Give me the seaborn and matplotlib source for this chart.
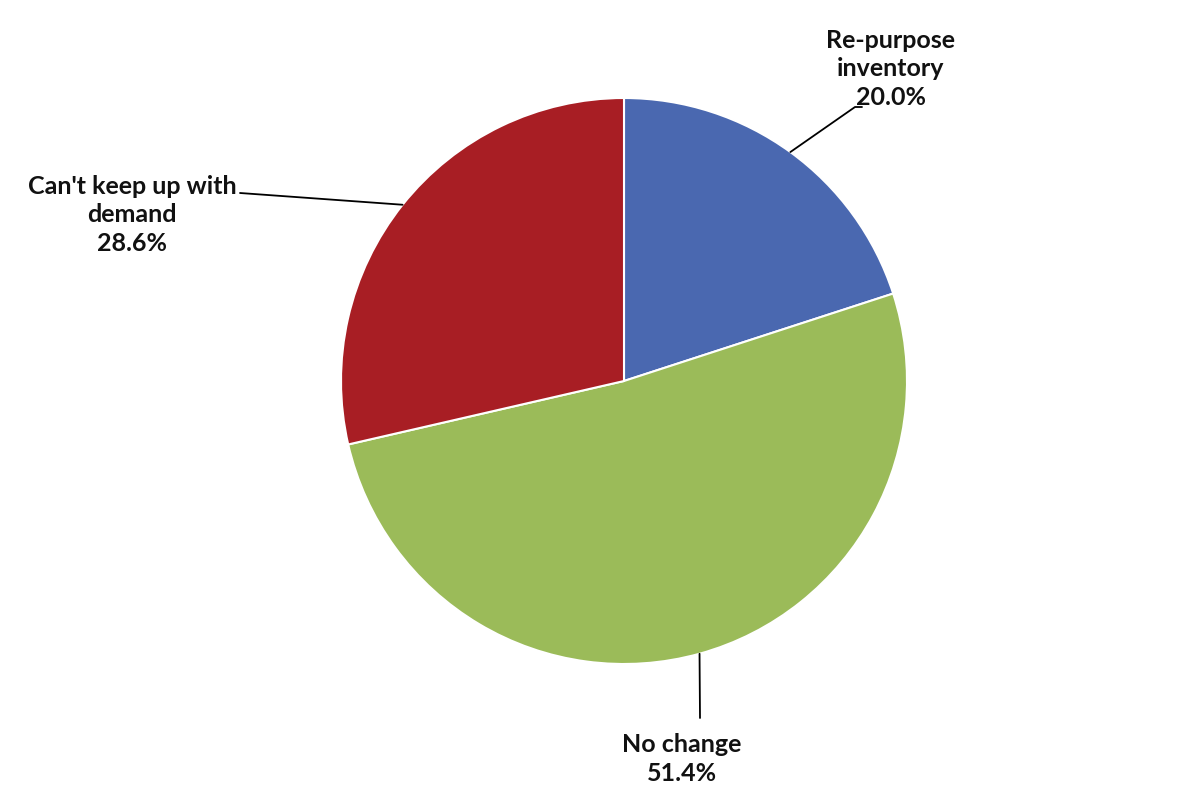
import numpy as np
import matplotlib.pyplot as plt
import seaborn as sns

# pie data, clockwise from 12 o'clock
labels = ["Re-purpose\ninventory", "No change", "Can't keep up with\ndemand"]
shares = [20.0, 51.4, 28.6]
colors = ["#4A68B0", "#9BBB59", "#A81E24"]

sns.set_theme(style="white")
plt.rcParams['font.family'] = ['Lato', 'DejaVu Sans']

W, H = 1200, 791
fig = plt.figure(figsize=(12, 7.91), dpi=100)
ax = fig.add_axes([0, 0, 1, 1])

cx, cy, r = 624, H - 381, 283
wedges, _ = ax.pie(shares, colors=colors, startangle=90, counterclock=False,
                   center=(cx, cy), radius=r, frame=True,
                   wedgeprops=dict(edgecolor='white', linewidth=1.5))
ax.set_xlim(0, W)
ax.set_ylim(0, H)
ax.axis('off')

# label positions (pixel coords from top) and leader elbows
text_pos = [(891, 69), (682, 759), (132, 215)]
elbows = [[(855, 107), (862, 107)], [(700, 718)], [(240, 193)]]

for w, lab, val, (tx, ty), elb in zip(wedges, labels, shares, text_pos, elbows):
    mid = np.deg2rad((w.theta1 + w.theta2) / 2)
    ex, ey = cx + r * np.cos(mid), cy + r * np.sin(mid)
    xs = [ex] + [p[0] for p in elb]
    ys = [ey] + [H - p[1] for p in elb]
    ax.plot(xs, ys, color='black', lw=1.3)
    ax.text(tx, H - ty, f"{lab}\n{val:.1f}%", ha='center', va='center',
            fontsize=18, fontweight='bold', color='#111111', linespacing=1.3)

fig.savefig("out.png", dpi=100)
